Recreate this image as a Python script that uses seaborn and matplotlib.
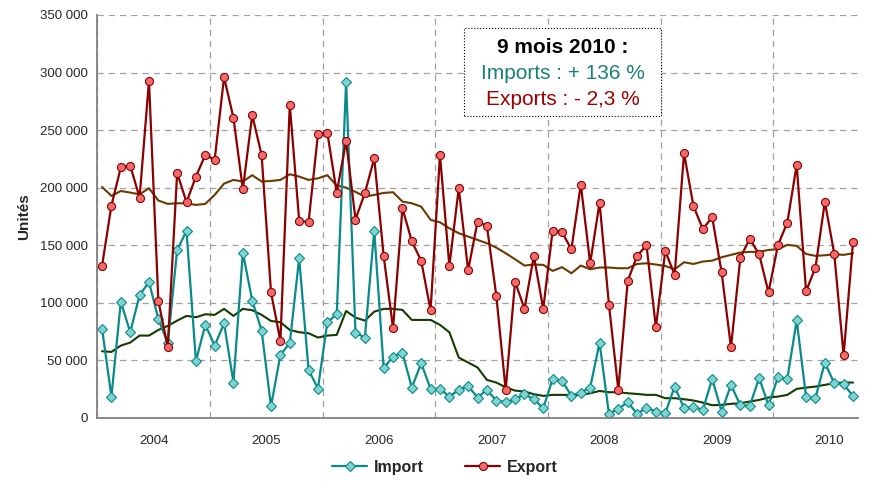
import numpy as np
import pandas as pd
import seaborn as sns
import matplotlib.pyplot as plt
from matplotlib.patches import Rectangle
from matplotlib.ticker import FuncFormatter, FixedLocator

# monthly values, Jan 2004 .. Sep 2010
years = ['2004', '2005', '2006', '2007', '2008', '2009', '2010']

imports = [77600, 18500, 101000, 74400, 106500, 118100, 86000, 64800, 145900, 162400, 49500, 80800,
           62800, 82200, 30700, 143600, 101900, 75800, 10100, 54700, 65100, 138700, 41700, 25500,
           83100, 90000, 291800, 73800, 69800, 162400, 43100, 53300, 56700, 26300, 47500, 25200,
           25200, 18500, 24300, 27800, 17700, 24300, 15100, 13600, 16200, 20600, 16200, 8400,
           33900, 32100, 19400, 22000, 26300, 65400, 3500, 7800, 13600, 3500, 9000, 5500,
           4100, 27200, 8400, 9800, 6900, 33900, 5500, 28700, 11000, 10400, 34700, 11000,
           35300, 33900, 84800, 18200, 17400, 48100, 30100, 29200, 19100]

exports = [132000, 184400, 217700, 219100, 191400, 292700, 101600, 61400, 212800, 187300, 209600, 228400,
           224400, 295900, 260600, 198600, 262900, 228400, 109100, 66900, 272100, 171400, 169900, 246400,
           247800, 195700, 240300, 172300, 195400, 225500, 140700, 77900, 182100, 153400, 136400, 93500,
           228400, 132000, 199500, 128200, 170500, 166800, 106200, 24300, 118400, 94700, 140700, 94700,
           162700, 161300, 146500, 202700, 134300, 187000, 98400, 24300, 119000, 140700, 150000, 78700,
           145000, 124200, 229900, 184100, 164100, 174300, 126500, 61400, 139200, 155500, 142100, 109100,
           150000, 169600, 219700, 110000, 130600, 187600, 142700, 54400, 152600]

imports_ma = [57900, 57300, 62800, 65400, 71500, 71500, 76400, 79900, 84500, 88600, 87400, 90000,
              89500, 94700, 88600, 94700, 93500, 89500, 84200, 83100, 76400, 74400, 73500, 69800,
              71500, 72100, 92900, 87100, 84500, 92300, 94700, 94700, 93800, 85100, 85100, 85100,
              80800, 74400, 52400, 48100, 43800, 33000, 30700, 26600, 23700, 22900, 20600, 19100,
              20000, 20000, 20000, 20000, 21400, 23400, 22300, 22300, 21400, 20800, 20000, 20000,
              17100, 17100, 16200, 15100, 13300, 11000, 11300, 12200, 12700, 14200, 15600, 17700,
              18500, 20000, 25200, 26300, 27200, 28700, 30100, 30700, 30700]

exports_ma = [200600, 192800, 197100, 195700, 194200, 199500, 188800, 185900, 186400, 186400, 185000, 185900,
              193700, 203500, 206700, 205300, 210800, 205300, 205800, 206700, 211600, 209600, 206700, 208100,
              210800, 201800, 200000, 196300, 192200, 193700, 195400, 196000, 187900, 186400, 183500, 172000,
              169900, 164700, 160400, 157500, 154600, 151700, 147900, 143000, 137800, 132300, 133200, 132900,
              127700, 130900, 125600, 132300, 129100, 130600, 130600, 130000, 130000, 133700, 134300, 133200,
              132000, 129100, 135200, 133700, 135800, 136600, 139500, 141600, 143600, 144200, 144200, 145900,
              146500, 150300, 149400, 142400, 140700, 141300, 142100, 141600, 143000]

sns.set_style('white')
plt.rcParams['font.family'] = ['Liberation Sans', 'DejaVu Sans']

df = pd.DataFrame({'mois': np.arange(len(imports)) + 0.5,
                   'Import': imports, 'Export': exports,
                   'Import_ma': imports_ma, 'Export_ma': exports_ma})

fig = plt.figure(figsize=(8.77, 4.82), dpi=100)
ax = fig.add_axes([0.111, 0.133, 0.867, 0.836])

sns.lineplot(data=df, x='mois', y='Export_ma', ax=ax, color='#6b3a00', lw=1.5, label='_ma1')
sns.lineplot(data=df, x='mois', y='Import_ma', ax=ax, color='#143c00', lw=1.5, label='_ma2')
sns.lineplot(data=df, x='mois', y='Import', ax=ax, color='#0a8a8a', lw=1.6, marker='D', markersize=4.8,
             markerfacecolor='#7fd4d0', markeredgecolor='#0a8a8a', markeredgewidth=0.8, label='Import')
sns.lineplot(data=df, x='mois', y='Export', ax=ax, color='#8b0000', lw=1.6, marker='o', markersize=5.8,
             markerfacecolor='#f26a6a', markeredgecolor='#8b0000', markeredgewidth=0.8, label='Export')

ax.set_xlim(0, 81)
ax.set_ylim(0, 350000)
ax.set_xlabel('')
ax.set_ylabel('Unités', fontsize=11, fontweight='bold', labelpad=6)

ax.xaxis.set_major_locator(FixedLocator(np.arange(0, 81, 12)))
ax.xaxis.set_minor_locator(FixedLocator(np.arange(6, 81, 12)))
ax.set_xticklabels([], minor=False)
ax.set_xticklabels(years, minor=True, fontsize=9.5)
ax.tick_params(axis='x', which='major', direction='inout', length=8, width=1, color='#404040')
ax.tick_params(axis='x', which='minor', length=0, pad=12)
ax.set_yticks(np.arange(0, 350001, 50000))
ax.yaxis.set_major_formatter(FuncFormatter(lambda v, p: f'{int(v):,}'.replace(',', ' ')))
ax.tick_params(axis='y', direction='out', length=4, width=1, color='#404040', labelsize=9.5, pad=3)

ax.grid(True, axis='both', which='major', color='#a0a0a0', lw=0.9, linestyle=(0, (5, 4)))
ax.set_axisbelow(True)
for s in ['top', 'right']:
    ax.spines[s].set_visible(False)
for s in ['left', 'bottom']:
    ax.spines[s].set_color('#7f7f7f')
    ax.spines[s].set_linewidth(1.3)

h, l = ax.get_legend_handles_labels()
keep = [i for i, t in enumerate(l) if t in ('Import', 'Export')]
if ax.get_legend() is not None:
    ax.get_legend().remove()
fig.legend([h[i] for i in keep], [l[i] for i in keep], loc='center', bbox_to_anchor=(0.507, 0.031),
           ncol=2, frameon=False, prop={'weight': 'bold', 'size': 11.5}, handlelength=2.2,
           handletextpad=0.4, columnspacing=2.6)

box = Rectangle((0.529, 0.759), 0.2246, 0.1826, transform=fig.transFigure, facecolor='white',
                edgecolor='black', lw=0.8, linestyle=':', zorder=5)
fig.patches.append(box)
fig.text(0.6414, 0.890, '9 mois 2010 :', ha='center', va='baseline', fontsize=15, fontweight='bold',
         color='black', zorder=6)
fig.text(0.6414, 0.836, 'Imports : + 136 %', ha='center', va='baseline', fontsize=15,
         color='#1a7f78', zorder=6)
fig.text(0.6414, 0.782, 'Exports : - 2,3 %', ha='center', va='baseline', fontsize=15,
         color='#a00000', zorder=6)

fig.savefig('out.png', dpi=100)
